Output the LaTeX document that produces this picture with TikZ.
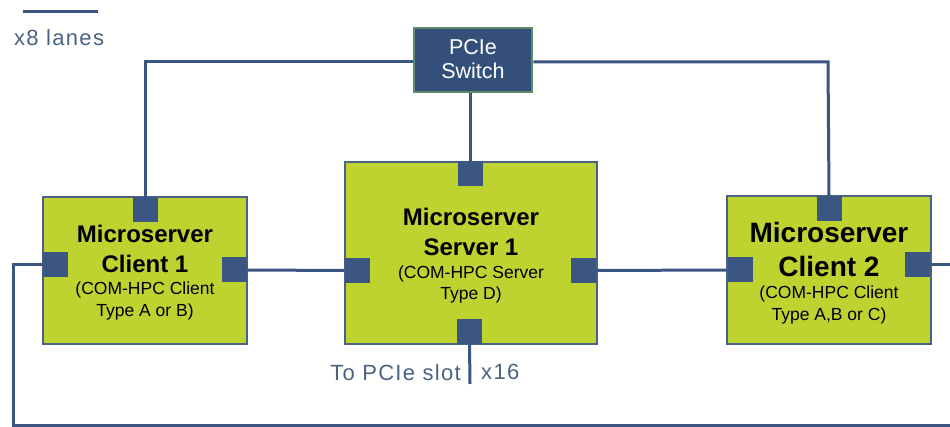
\documentclass[tikz,border=0pt]{standalone}
\usepackage{fontspec}
\setmainfont{Liberation Sans}
\newfontfamily\spacedfont[LetterSpace=6]{Liberation Sans}
\definecolor{lanecol}{HTML}{3B5683}
\definecolor{swfill}{HTML}{34507A}
\definecolor{swedge}{HTML}{5E8C6A}
\definecolor{boardfill}{HTML}{BED230}
\definecolor{boardedge}{HTML}{4A6285}
\definecolor{labelcol}{HTML}{4A6285}
\tikzset{
  lane/.style={draw=lanecol, line width=3pt},
  board/.style={draw=boardedge, line width=1.6pt, fill=boardfill, rectangle, inner sep=0pt},
  port/.style={fill=lanecol, rectangle, inner sep=0pt, minimum width=25pt, minimum height=25pt},
  switchbox/.style={draw=swedge, line width=2.5pt, fill=swfill, rectangle, inner sep=0pt,
    minimum width=118pt, minimum height=64pt},
  title/.style={anchor=base, font=\bfseries, inner sep=0pt},
  sub/.style={anchor=base, inner sep=0pt},
  note/.style={text=labelcol, inner sep=0pt, font=\spacedfont\fontsize{22}{26}\selectfont}
}
\begin{document}
\begin{tikzpicture}[x=1pt, y=-1pt]
\useasboundingbox (0,0) rectangle (950,427);

% legend
\coordinate (lg1) at (23,12);
\coordinate (lg2) at (98,12);
\draw[lane] (lg1) -- (lg2);
\node[note, anchor=base west] (lgtext) at (14,46) {x8 lanes};

% PCIe switch
\node[switchbox] (sw) at (473,60) {};
\node[sub, text=white, font=\fontsize{21.5}{24}\selectfont] (swa) at (473,55) {PCIe};
\node[sub, text=white, font=\fontsize{21.5}{24}\selectfont] (swb) at (473,79) {Switch};

% boards
\node[board, minimum width=204pt, minimum height=147pt] (c1) at (145,270.5) {};
\node[board, minimum width=252pt, minimum height=182pt] (sv) at (471,253) {};
\node[board, minimum width=204pt, minimum height=148pt] (c2) at (829,270) {};

% board texts
\node[title, font=\bfseries\fontsize{24}{28}\selectfont] (c1a) at (145,243) {Microserver};
\node[title, font=\bfseries\fontsize{24}{28}\selectfont] (c1b) at (145,273) {Client 1};
\node[sub, font=\fontsize{17.5}{21}\selectfont] (c1c) at (145,295) {(COM-HPC Client};
\node[sub, font=\fontsize{17.5}{21}\selectfont] (c1d) at (145,317) {Type A or B)};

\node[title, font=\bfseries\fontsize{24}{28}\selectfont] (sva) at (471,226) {Microserver};
\node[title, font=\bfseries\fontsize{24}{28}\selectfont] (svb) at (471,256) {Server 1};
\node[sub, font=\fontsize{17.5}{21}\selectfont] (svc) at (471,279) {(COM-HPC Server};
\node[sub, font=\fontsize{17.5}{21}\selectfont] (svd) at (471,300) {Type D)};

\node[title, font=\bfseries\fontsize{28}{32}\selectfont] (c2a) at (829,243) {Microserver};
\node[title, font=\bfseries\fontsize{28}{32}\selectfont] (c2b) at (829,277) {Client 2};
\node[sub, font=\fontsize{17.5}{21}\selectfont] (c2c) at (829,299) {(COM-HPC Client};
\node[sub, font=\fontsize{17.5}{21}\selectfont] (c2d) at (829,321) {Type A,B or C)};

% ports
\node[port] (c1t) at (145,209.5) {};
\node[port] (c1l) at (55.5,264.5) {};
\node[port] (c1r) at (234.5,270) {};
\node[port] (svt) at (470.5,173.5) {};
\node[port] (svl) at (357,270.5) {};
\node[port] (svr) at (583.5,270.5) {};
\node[port] (svb) at (469.5,331.5) {};
\node[port] (c2t) at (829,209) {};
\node[port] (c2l) at (740,270) {};
\node[port] (c2r) at (917,264.5) {};

% free ends
\coordinate (slot) at (470,384);
\coordinate (lbend1) at (13,264.5);
\coordinate (lbend2) at (13,425);
\coordinate (lexit) at (950,425);
\coordinate (rexit) at (950,264.5);
\coordinate (swleft) at (145,62);
\coordinate (swright) at (828,62);

% lanes
\draw[lane] (sw.west |- swleft) -- (swleft) -- (c1t.north);
\draw[lane] (sw.east |- swright) -- (swright) -- (c2t.north);
\draw[lane] (svt.north |- sw.south) -- (svt.north);
\draw[lane] (c1r.east) -- (svl.west);
\draw[lane] (svr.east) -- (c2l.west);
\draw[lane] (c1l.west) -- (lbend1) -- (lbend2) -- (lexit);
\draw[lane] (c2r.east) -- (rexit);
\draw[lane] (svb.south) -- (slot);

% slot labels
\node[note, anchor=base east] (slotlbl) at (461,381) {To PCIe slot};
\node[note, anchor=base west] (x16lbl) at (481,379) {x16};
\end{tikzpicture}
\end{document}
